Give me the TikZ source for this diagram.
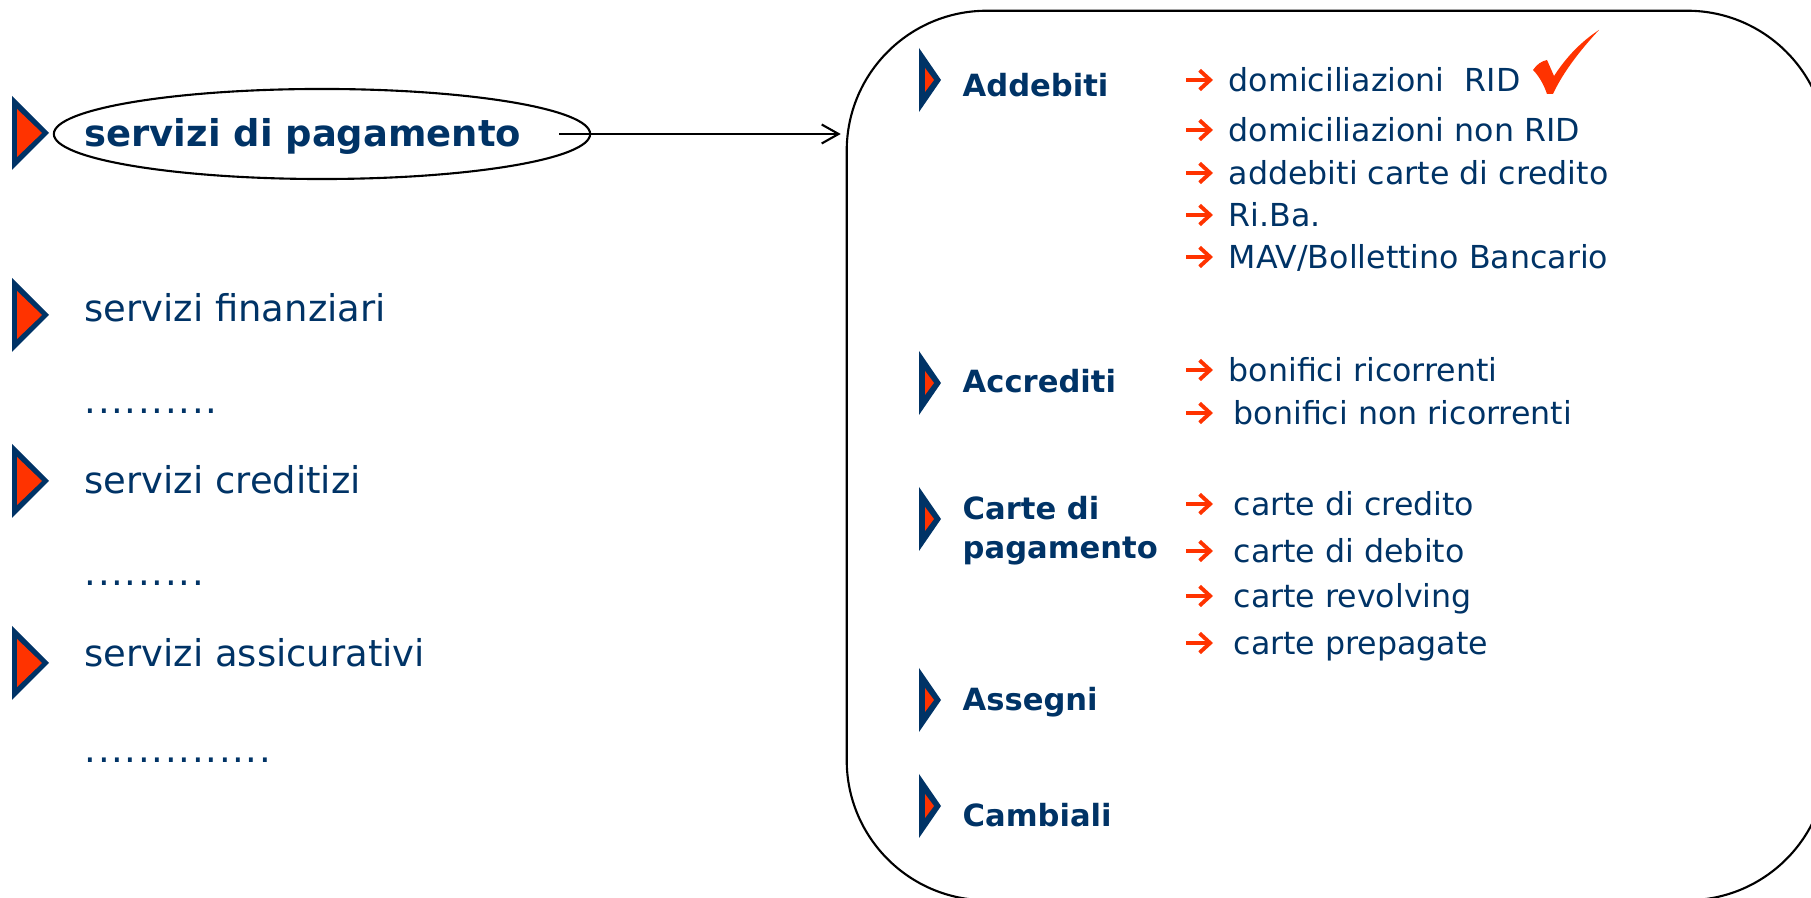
\documentclass[tikz,border=0pt]{standalone}
\usepackage{fontspec}
\setmainfont{DejaVu Sans}
\usetikzlibrary{shapes.geometric,arrows.meta}

\definecolor{blu}{RGB}{0,51,102}
\definecolor{arancio}{RGB}{255,51,0}

\tikzset{
	voce/.style={anchor=base west, inner sep=0pt, text=blu, font=\fontsize{10.5}{12}\selectfont},
	vocebold/.style={voce, font=\fontsize{10.5}{12}\selectfont\bfseries},
	puntini/.style={voce, font=\fontsize{10.5}{12}\selectfont\addfontfeature{LetterSpace=4.6}},
	sottovoce/.style={anchor=base west, inner sep=0pt, text=blu, font=\fontsize{9}{10}\selectfont},
	titolo/.style={anchor=base west, inner sep=0pt, text=blu, align=left, font=\fontsize{8.7}{11.1}\selectfont\bfseries},
	linea/.style={line width=0.6pt},
	puntagr/.pic={
		\fill[blu] (0,-37) -- (37,0) -- (0,37) -- cycle;
		\fill[arancio] (5,-24) -- (30,0) -- (5,24) -- cycle;
	},
	puntapc/.pic={
		\fill[blu] (0,-32) -- (22,0) -- (0,32) -- cycle;
		\fill[arancio] (6,-12) -- (15,0) -- (6,12) -- cycle;
	},
	freccina/.pic={
		\draw[arancio, line width=1.1pt, -{Straight Barb[length=3pt,width=5.5pt]}] (0,0) -- (27,0);
	}
}

\begin{document}
\begin{tikzpicture}[x=0.01cm,y=-0.01cm]
	\useasboundingbox (0,0) rectangle (1811,898);

	% colonna di sinistra
	\pic at (12,133) {puntagr};
	\node[draw, linea, ellipse, minimum width=5.36cm, minimum height=0.9cm] (ellisse) at (322,134) {};
	\node[vocebold] (pagamento) at (84,147) {servizi di pagamento};

	\pic at (12,315) {puntagr};
	\node[voce] (finanziari) at (84,322) {servizi finanziari};
	\node[puntini] (puntini1) at (84,414) {..........};

	\pic at (12,481) {puntagr};
	\node[voce] (creditizi) at (84,494) {servizi creditizi};
	\node[puntini] (puntini2) at (84,586) {.........};

	\pic at (12,663) {puntagr};
	\node[voce] (assicurativi) at (84,667) {servizi assicurativi};
	\node[puntini] (puntini3) at (84,763) {..............};

	% riquadro di destra
	\node[draw, linea, rounded corners=1.4cm, minimum width=9.8cm, minimum height=8.89cm] (riquadro) at (1337,455.5) {};

	\draw[linea, -{Straight Barb[length=4.8pt,width=5.4pt]}, shorten >=1.4pt] ([xshift=-0.32cm]ellisse.east) -- (ellisse.east -| riquadro.west);

	\pic at (919,80) {puntapc};
	\node[titolo] (addebiti) at (962,97) {Addebiti};
	\pic at (1186,80) {freccina};
	\node[sottovoce] (rid) at (1228,92) {domiciliazioni\ \ RID};
	\pic at (1186,130) {freccina};
	\node[sottovoce] (nonrid) at (1228,142) {domiciliazioni non RID};
	\pic at (1186,173) {freccina};
	\node[sottovoce] (addcarte) at (1228,185) {addebiti carte di credito};
	\pic at (1186,215) {freccina};
	\node[sottovoce] (riba) at (1228,227) {Ri.Ba.};
	\pic at (1186,257) {freccina};
	\node[sottovoce] (mav) at (1228,269) {MAV/Bollettino Bancario};
	\fill[arancio] (1533,70) .. controls (1537,64) and (1542,61) .. (1547,60) -- (1554,76) .. controls (1567,56) and (1582,41) .. (1599,30) .. controls (1584,46) and (1564,70) .. (1553,94) -- (1547,94) .. controls (1544,85) and (1539,76) .. (1533,70) -- cycle;

	\pic at (919,383) {puntapc};
	\node[titolo] (accrediti) at (962,393) {Accrediti};
	\pic at (1186,370) {freccina};
	\node[sottovoce] (ricorrenti) at (1228,382) {bonifici ricorrenti};
	\pic at (1186,413) {freccina};
	\node[sottovoce] (nonricorrenti) at (1233,425) {bonifici non ricorrenti};

	\pic at (919,519) {puntapc};
	\node[titolo] (cartepag) at (962,559) {Carte di\\pagamento};
	\pic at (1186,504) {freccina};
	\node[sottovoce] (credito) at (1233,516) {carte di credito};
	\pic at (1186,551) {freccina};
	\node[sottovoce] (debito) at (1233,563) {carte di debito};
	\pic at (1186,596) {freccina};
	\node[sottovoce] (revolving) at (1233,608) {carte revolving};
	\pic at (1186,643) {freccina};
	\node[sottovoce] (prepagate) at (1233,655) {carte prepagate};

	\pic at (919,700) {puntapc};
	\node[titolo] (assegni) at (962,711) {Assegni};

	\pic at (919,806) {puntapc};
	\node[titolo] (cambiali) at (962,827) {Cambiali};
\end{tikzpicture}
\end{document}
